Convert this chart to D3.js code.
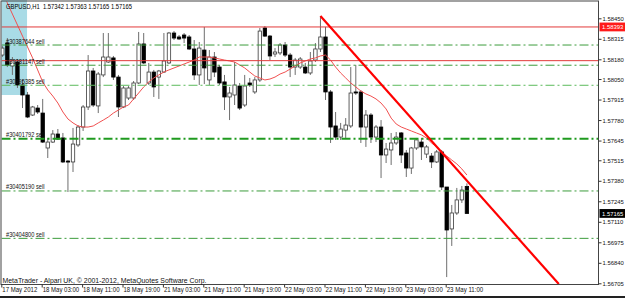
<!DOCTYPE html>
<html><head><meta charset="utf-8">
<script src="https://cdn.jsdelivr.net/npm/d3@7"></script>
<style>html,body{margin:0;padding:0;background:#fff;overflow:hidden}svg{display:block}</style>
</head><body>
<svg id="c" width="625" height="298"></svg>
<script>
const titleText = "GBPUSD,H1  1.57342 1.57363 1.57165 1.57165";
const copyrightText = "MetaTrader - Alpari UK, \u00A9 2001-2012, MetaQuotes Software Corp.";

const opens = [1.58208,1.58287,1.58136,1.58162,1.58011,1.57945,1.57813,1.57859,1.57826,1.57596,
 1.57635,1.57688,1.57662,1.57510,1.57504,1.57616,1.57734,1.57866,1.58103,1.57873,
 1.58077,1.58162,1.58189,1.58063,1.57866,1.57925,1.57925,1.58024,1.58281,1.58024,
 1.58096,1.58063,1.58096,1.58156,1.58353,1.58327,1.58340,1.58327,1.58248,1.58077,
 1.58241,1.58044,1.58195,1.58129,1.58031,1.57932,1.57945,1.58004,1.57879,1.58024,
 1.57965,1.58044,1.58386,1.58333,1.58215,1.58222,1.58274,1.58208,1.58129,1.58129,
 1.58129,1.58090,1.58175,1.58248,1.58327,1.57965,1.57741,1.57668,1.57714,1.57741,
 1.57965,1.57965,1.57734,1.57813,1.57668,1.57734,1.57550,1.57583,1.57629,1.57695,
 1.57563,1.57464,1.57596,1.57635,1.57556,1.57543,1.57504,1.57570,1.57339,1.57063,
 1.57168,1.57254,1.57342];
const highs = [1.58268,1.58320,1.58195,1.58182,1.58044,1.57965,1.57873,1.57879,1.57919,1.57662,
 1.57714,1.57721,1.57695,1.57517,1.57728,1.57747,1.57879,1.58208,1.58123,1.58096,
 1.58353,1.58353,1.58202,1.58077,1.58004,1.58004,1.58037,1.58360,1.58353,1.58156,
 1.58110,1.58110,1.58353,1.58360,1.58366,1.58340,1.58353,1.58340,1.58307,1.58294,
 1.58393,1.58241,1.58228,1.58143,1.58077,1.57998,1.58162,1.58024,1.58077,1.58057,
 1.58063,1.58386,1.58399,1.58340,1.58254,1.58287,1.58294,1.58222,1.58189,1.58195,
 1.58156,1.58228,1.58287,1.58465,1.58393,1.57978,1.57833,1.57761,1.57793,1.58129,
 1.58143,1.57978,1.57846,1.57826,1.57747,1.57780,1.57629,1.57695,1.57701,1.57701,
 1.57583,1.57603,1.57662,1.57662,1.57616,1.57563,1.57583,1.57583,1.57339,1.57221,
 1.57333,1.57346,1.57363];
const lows = [1.58195,1.58129,1.58077,1.57991,1.57859,1.57793,1.57807,1.57820,1.57629,1.57530,
 1.57629,1.57649,1.57497,1.57306,1.57438,1.57603,1.57708,1.57846,1.57866,1.57826,
 1.58063,1.58156,1.58044,1.57800,1.57859,1.57912,1.57912,1.58017,1.58149,1.58011,
 1.57932,1.57919,1.58090,1.58149,1.58307,1.58307,1.58287,1.58241,1.58044,1.58011,
 1.58017,1.58011,1.58063,1.58011,1.57846,1.57780,1.57879,1.57846,1.57866,1.57998,
 1.57952,1.58031,1.58327,1.58175,1.58195,1.58208,1.58195,1.58063,1.58077,1.58116,
 1.58083,1.58077,1.58162,1.58228,1.57912,1.57629,1.57649,1.57649,1.57662,1.57728,
 1.57945,1.57629,1.57603,1.57629,1.57635,1.57398,1.57497,1.57484,1.57616,1.57497,
 1.57405,1.57425,1.57583,1.57517,1.57530,1.57464,1.57497,1.57319,1.56746,1.56951,
 1.57155,1.57234,1.57165];
const closes = [1.58254,1.58143,1.58175,1.58011,1.57945,1.57800,1.57866,1.57833,1.57635,1.57635,
 1.57688,1.57655,1.57504,1.57504,1.57622,1.57734,1.57866,1.58103,1.57879,1.58083,
 1.58195,1.58195,1.58063,1.57866,1.57991,1.57991,1.58024,1.58281,1.58156,1.58096,
 1.57998,1.58103,1.58169,1.58353,1.58320,1.58314,1.58320,1.58248,1.58077,1.58254,
 1.58123,1.58195,1.58096,1.58024,1.57932,1.57958,1.58011,1.57859,1.58004,1.58011,
 1.58044,1.58366,1.58333,1.58202,1.58228,1.58274,1.58208,1.58129,1.58175,1.58182,
 1.58090,1.58169,1.58248,1.58327,1.57965,1.57734,1.57668,1.57721,1.57747,1.57958,
 1.57958,1.57734,1.57813,1.57668,1.57734,1.57550,1.57589,1.57629,1.57668,1.57550,
 1.57464,1.57596,1.57649,1.57603,1.57603,1.57504,1.57570,1.57339,1.57056,1.57168,
 1.57254,1.57319,1.57165];
const maValues = [1.58623,1.58551,1.58478,1.58406,1.58333,1.58261,1.58189,1.58110,1.58031,1.57978,
 1.57938,1.57892,1.57833,1.57787,1.57761,1.57741,1.57734,1.57734,1.57741,1.57761,
 1.57780,1.57800,1.57826,1.57846,1.57866,1.57879,1.57919,1.57958,1.57998,1.58031,
 1.58057,1.58077,1.58096,1.58110,1.58123,1.58136,1.58149,1.58162,1.58175,1.58195,
 1.58195,1.58195,1.58189,1.58182,1.58175,1.58169,1.58162,1.58143,1.58123,1.58096,
 1.58070,1.58057,1.58044,1.58050,1.58063,1.58083,1.58096,1.58116,1.58136,1.58156,
 1.58169,1.58182,1.58189,1.58202,1.58208,1.58175,1.58129,1.58090,1.58057,1.58024,
 1.57998,1.57971,1.57952,1.57938,1.57919,1.57892,1.57853,1.57793,1.57754,1.57734,
 1.57721,1.57708,1.57695,1.57682,1.57662,1.57629,1.57603,1.57570,1.57543,1.57517,
 1.57491,1.57458,1.57418];

const timeLabelBars = [0,8,16,24,32,40,48,56,64,72,80,88];
const timeLabels = ["17 May 2012","18 May 03:00","18 May 11:00","18 May 19:00","21 May 03:00","21 May 11:00",
 "21 May 19:00","22 May 03:00","22 May 11:00","22 May 19:00","23 May 03:00","23 May 11:00"];
const priceTicks = [1.58450,1.58315,1.58180,1.58050,1.57915,1.57780,1.57645,1.57515,1.57380,1.57245,1.57110,1.56975,1.56840,1.56705];

const redLevels = [1.58393, 1.58171];
const orderLevels = [1.58274, 1.58141, 1.58009, 1.57657, 1.57313, 1.57001];
const orderLabels = ["#30387644 sell","#30381147 sell","#30395385 sell","#30401792 sell","#30405190 sell","#30404800 sell"];
const trendBars = [63, 110.2];
const trendPrices = [1.58465, 1.56700];
const boxBars = [-0.46, 4.9];
const boxPrices = [1.58575, 1.57945];
const markerPrices = [1.58393, 1.57165];
const lastBar = 92;

const svg = d3.select("#c");
const FONT = "'Liberation Sans', Arial, sans-serif";
const PL = 1.5, PR = 598.5, PT = 1.5, PB = 284.5;
const x = d3.scaleLinear().domain([0, lastBar]).range([2.3, 2.3 + lastBar * 5.05]);
const y = d3.scaleLinear().domain([1.58450, 1.56705]).range([18.3, 283.3]);

svg.append("rect").attr("width", 625).attr("height", 298).attr("fill", "#fff");
const defs = svg.append("defs");
defs.append("clipPath").attr("id", "plot").append("rect")
  .attr("x", PL).attr("y", PT).attr("width", PR - PL).attr("height", PB - PT);
defs.append("clipPath").attr("id", "plotTop").append("rect")
  .attr("x", PL).attr("y", 0).attr("width", PR - PL).attr("height", PB);

// background rectangle object
svg.append("g").attr("clip-path", "url(#plotTop)").append("rect")
  .attr("x", x(boxBars[0])).attr("y", y(boxPrices[0]))
  .attr("width", x(boxBars[1]) - x(boxBars[0]))
  .attr("height", y(boxPrices[1]) - y(boxPrices[0]))
  .attr("fill", "#a9dbe6");

const g = svg.append("g").attr("clip-path", "url(#plot)");

// candles
const bars = opens.map((o, i) => ({ i, o, h: highs[i], l: lows[i], c: closes[i] }));
g.selectAll(".wick").data(bars).join("line").attr("class", "wick")
  .attr("x1", d => x(d.i)).attr("x2", d => x(d.i))
  .attr("y1", d => y(d.h)).attr("y2", d => y(d.l))
  .attr("stroke", "#6e6e6e").attr("stroke-width", 1);
g.selectAll(".body").data(bars).join("rect").attr("class", "body")
  .attr("x", d => x(d.i) - 1.7).attr("width", 3.4)
  .attr("y", d => y(Math.max(d.o, d.c)))
  .attr("height", d => Math.max(1, Math.abs(y(d.o) - y(d.c))))
  .attr("fill", d => d.c > d.o ? "#fff" : "#000")
  .attr("stroke", d => d.c > d.o ? "#3a3a3a" : "#000").attr("stroke-width", 0.8);

// moving average
g.append("path").datum(maValues)
  .attr("d", d3.line().x((d, i) => x(i)).y(d => y(d)))
  .attr("fill", "none").attr("stroke", "#f05050").attr("stroke-width", 1);

// order lines
g.selectAll(".ord").data(orderLevels).join("line").attr("class", "ord")
  .attr("x1", PL).attr("x2", PR).attr("y1", d => y(d)).attr("y2", d => y(d))
  .attr("stroke", (d, i) => i === 3 ? "#1f9a1f" : (i === 2 ? "#5cba5c" : "#3c9c3c"))
  .attr("stroke-width", (d, i) => i === 3 ? 1.8 : 1)
  .attr("stroke-dasharray", "9,3,2,3");

// red horizontal lines
g.selectAll(".hl").data(redLevels).join("line").attr("class", "hl")
  .attr("x1", PL).attr("x2", PR).attr("y1", d => y(d)).attr("y2", d => y(d))
  .attr("stroke", "#e23a3a").attr("stroke-width", 1);

// trend line
g.append("line")
  .attr("x1", x(trendBars[0])).attr("y1", y(trendPrices[0]))
  .attr("x2", x(trendBars[1])).attr("y2", y(trendPrices[1]))
  .attr("stroke", "#ff0000").attr("stroke-width", 2.2);

// order labels
svg.selectAll(".olab").data(orderLevels).join("text").attr("class", "olab")
  .attr("x", 6).attr("y", d => y(d) - 1.5)
  .attr("font-family", FONT).attr("font-size", 7).attr("fill", "#111")
  .attr("textLength", 38.5).attr("lengthAdjust", "spacingAndGlyphs")
  .text((d, i) => orderLabels[i]);

// title
svg.append("text").attr("x", 6).attr("y", 8.5)
  .attr("font-family", FONT).attr("font-size", 7).attr("fill", "#000")
  .attr("textLength", 126).attr("lengthAdjust", "spacingAndGlyphs")
  .attr("xml:space", "preserve").text(titleText);

// frame
svg.append("rect").attr("x", PL - 0.5).attr("y", PT - 0.5).attr("width", PR - PL + 0.5).attr("height", PB - PT + 0.5)
  .attr("fill", "none").attr("stroke", "#444").attr("stroke-width", 1);

// right price axis
const yAxis = d3.axisRight(y).tickValues(priceTicks).tickSize(3).tickPadding(1)
  .tickFormat(d3.format(".5f"));
const ya = svg.append("g").attr("transform", `translate(${PR},0)`).call(yAxis);
ya.select(".domain").remove();
ya.selectAll(".tick line").attr("stroke", "#333");
ya.selectAll(".tick text").attr("font-family", FONT).attr("font-size", 5.9).attr("fill", "#111")
  .attr("dy", "0.36em");

// price markers
const mk = svg.selectAll(".mk").data(markerPrices).join("g").attr("class", "mk")
  .attr("transform", d => `translate(599.5,${y(d)})`);
mk.append("rect").attr("x", 0).attr("y", -4.4).attr("width", 25.5).attr("height", 8.8)
  .attr("fill", (d, i) => i === 0 ? "#ff1a1a" : "#000");
mk.append("text").attr("x", 2.6).attr("y", 2.2)
  .attr("font-family", FONT).attr("font-size", 5.9).attr("fill", "#fff")
  .text(d => d3.format(".5f")(d));

// bottom time axis
const xAxis = d3.axisBottom(x).tickValues(timeLabelBars).tickSize(3).tickPadding(2)
  .tickFormat((d, i) => timeLabels[i]);
const xa = svg.append("g").attr("transform", `translate(-1,${PB})`).call(xAxis);
xa.select(".domain").remove();
xa.selectAll(".tick line").attr("stroke", "#333");
xa.selectAll(".tick text").attr("font-family", FONT).attr("font-size", 7).attr("fill", "#111")
  .attr("text-anchor", "start").attr("x", 0.5).attr("y", 3).attr("dy", "0.71em")
  .attr("textLength", (d, i) => i === 0 ? 35 : 36.5).attr("lengthAdjust", "spacingAndGlyphs");

// copyright
svg.append("text").attr("x", 2.5).attr("y", 283)
  .attr("font-family", FONT).attr("font-size", 7).attr("fill", "#111")
  .attr("textLength", 204).attr("lengthAdjust", "spacingAndGlyphs")
  .text(copyrightText);

// bottom window edge
svg.append("rect").attr("x", 0).attr("y", 296).attr("width", 625).attr("height", 2).attr("fill", "#222");
</script>
</body></html>
